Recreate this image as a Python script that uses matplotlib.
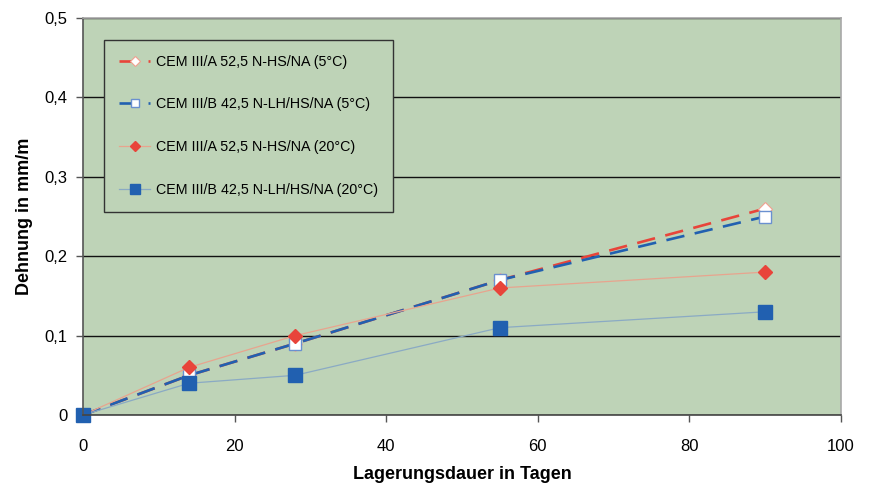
"""Dehnung von CEM III Mörteln über die Lagerungsdauer"""
import matplotlib
matplotlib.use("Agg")
import matplotlib.pyplot as plt
from matplotlib.ticker import FuncFormatter, MultipleLocator

plt.rcParams["font.family"] = ["Liberation Sans", "DejaVu Sans"]

# Lagerungsdauer in Tagen
tage = [0, 14, 28, 55, 90]

# Dehnung in mm/m
cem3a_5 = [0, 0.05, 0.09, 0.17, 0.26]
cem3b_5 = [0, 0.05, 0.09, 0.17, 0.25]
cem3a_20 = [0, 0.06, 0.10, 0.16, 0.18]
cem3b_20 = [0, 0.04, 0.05, 0.11, 0.13]

labels = [
    "CEM III/A 52,5 N-HS/NA (5°C)",
    "CEM III/B 42,5 N-LH/HS/NA (5°C)",
    "CEM III/A 52,5 N-HS/NA (20°C)",
    "CEM III/B 42,5 N-LH/HS/NA (20°C)",
]

rot = "#E8443A"
blau = "#2160B0"

fig = plt.figure(figsize=(8.7, 4.88), dpi=100)
ax = fig.add_axes([0.0954, 0.1496, 0.8713, 0.8135])
ax.set_facecolor("#BED3B7")

dash = (7, 4)
ax.plot(tage, cem3a_5, color=rot, lw=1.9, dashes=dash, marker="D", ms=7,
        mfc="white", mec="#F0A090", mew=0.8, label=labels[0])
ax.plot(tage, cem3b_5, color=blau, lw=1.9, dashes=dash, marker="s", ms=8.5,
        mfc="white", mec="#6A90D0", mew=1.0, label=labels[1])
ax.plot(tage, cem3a_20, color="#E8A48E", lw=0.9, marker="D", ms=7,
        mfc=rot, mec=rot, label=labels[2])
ax.plot(tage, cem3b_20, color="#8AAAC4", lw=0.9, marker="s", ms=9.5,
        mfc=blau, mec=blau, label=labels[3])

ax.set_xlim(0, 100)
ax.set_ylim(0, 0.5)
ax.xaxis.set_major_locator(MultipleLocator(20))
ax.yaxis.set_major_locator(MultipleLocator(0.1))
ax.yaxis.set_major_formatter(
    FuncFormatter(lambda v, _: "0" if abs(v) < 1e-9 else f"{v:.1f}".replace(".", ",")))

ax.grid(axis="y", color="#111111", lw=1.0)
ax.set_axisbelow(True)
for side in ("top", "right"):
    ax.spines[side].set_color("#A8A8A8")
    ax.spines[side].set_linewidth(1.2)
ax.spines["left"].set_color("#555555")
ax.spines["bottom"].set_color("#444444")
ax.spines["left"].set_linewidth(1.2)
ax.spines["bottom"].set_linewidth(1.2)
ax.tick_params(direction="out", length=5, width=1, color="#555555",
               labelsize=12, pad=6)
ax.tick_params(axis="x", pad=12)

for line in ax.lines:
    line.set_clip_on(False)

ax.set_xlabel("Lagerungsdauer in Tagen", fontsize=13, fontweight="bold", labelpad=9)
ax.set_ylabel("Dehnung in mm/m", fontsize=13, fontweight="bold", labelpad=8)

leg = ax.legend(loc="upper left", bbox_to_anchor=(0.0277, 0.945), fontsize=10.3,
                frameon=True, fancybox=False, edgecolor="#333333",
                facecolor="#BED3B7", framealpha=1, handlelength=2.2,
                markerscale=0.75, labelspacing=2.0, borderpad=1.05,
                handletextpad=0.4, borderaxespad=0)
leg.get_frame().set_linewidth(1.0)

fig.savefig("out.png", dpi=100)
